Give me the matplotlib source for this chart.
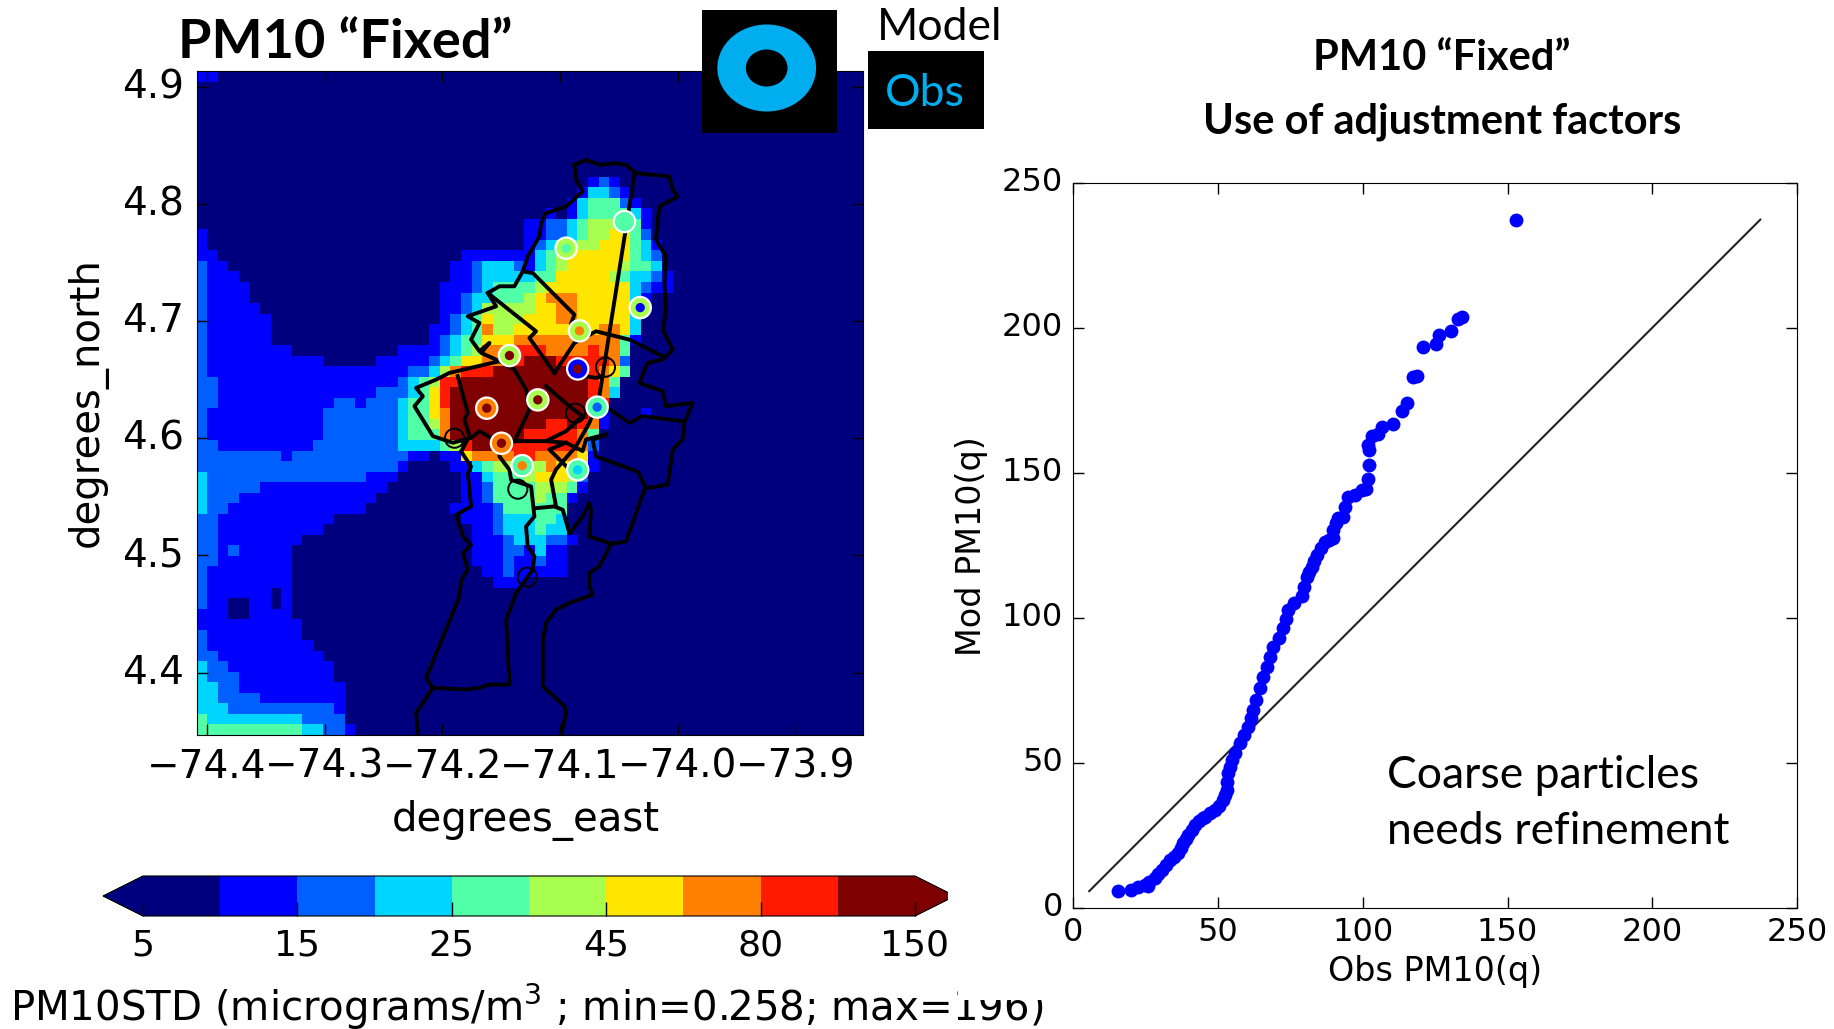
import matplotlib
matplotlib.use("Agg")
import matplotlib.pyplot as plt
import numpy as np
from matplotlib.cm import ScalarMappable
from matplotlib.colors import BoundaryNorm, ListedColormap
from matplotlib.patches import Ellipse, Rectangle
from matplotlib.transforms import ScaledTranslation

plt.rcParams["font.family"] = ["DejaVu Sans"]
plt.rcParams["mathtext.default"] = "regular"

W, H = 1834, 1029

# colour classes of the map
levels = [5, 10, 15, 20, 25, 35, 45, 60, 80, 100, 150]
level_ticks = [5, 15, 25, 45, 80, 150]
level_colors = ["#00007f", "#0000ff", "#0060ff", "#00d5ff", "#50ffa8",
                "#a8ff4e", "#ffe600", "#ff7f00", "#ff1a00", "#7f0000"]
level_values = [7, 12, 17, 22, 30, 40, 52, 70, 90, 125]

# map cells, top row first, as "first_column:class" runs
field_rows = [
    "0:1 2:0",
    "0:0", "0:0", "0:0", "0:0", "0:0", "0:0", "0:0", "0:0", "0:0",
    "0:0 37:1 38:2 39:1 40:0",
    "0:0 36:1 37:3 39:2 40:1 41:0",
    "0:0 35:1 36:3 37:4 40:2 41:1 42:0",
    "0:0 33:1 34:0 35:1 36:3 37:4 41:3 42:1 43:0",
    "0:0 31:1 33:2 35:3 36:4 37:5 40:4 42:1 43:0",
    "0:1 1:0 31:1 33:2 35:3 36:4 37:5 39:6 41:4 42:2 43:0",
    "0:1 1:0 31:1 32:2 33:3 34:4 36:5 38:6 41:4 42:3 43:1 44:0",
    "0:1 2:0 25:1 32:3 33:4 34:5 35:6 41:4 42:3 43:2 44:0",
    "0:2 1:1 3:0 24:1 26:2 27:3 30:2 31:1 32:3 33:4 34:5 35:6 40:5 41:4 43:3 44:0",
    "0:2 1:1 4:0 24:1 26:2 27:3 32:4 34:6 39:5 40:4 41:3 43:2 44:1 45:0",
    "0:2 1:1 5:0 23:1 26:2 27:3 28:4 32:5 33:6 41:3 42:2 43:1 45:0",
    "0:2 1:1 5:0 23:1 25:2 26:3 28:4 31:5 32:6 33:7 36:6 41:3 42:1 43:0",
    "0:2 1:1 6:0 23:1 25:2 26:3 27:5 32:6 34:7 36:6 41:3 42:1 43:0",
    "0:2 1:1 7:0 23:1 24:2 25:3 26:4 27:6 28:5 31:6 34:7 36:6 41:3 42:0",
    "0:2 1:1 7:0 22:1 24:2 25:3 26:4 27:7 28:5 30:6 38:7 40:6 41:3 42:0",
    "0:2 1:1 7:0 22:1 23:2 24:3 25:4 27:6 30:7 40:4 41:1 42:0",
    "0:2 1:1 9:0 19:1 23:2 24:3 25:4 26:5 27:7 30:8 33:7 37:8 38:7 40:4 41:0",
    "0:2 1:1 12:0 17:1 22:2 23:3 24:4 25:6 27:7 29:8 31:9 34:8 39:7 40:2 41:0",
    "0:2 1:1 20:2 22:3 23:5 24:7 25:8 28:9 37:8 38:7 39:6 40:4 41:0",
    "0:2 2:1 19:2 20:3 21:4 22:5 23:8 25:9 37:8 38:7 39:4 40:0",
    "0:2 2:1 17:2 20:3 21:4 22:6 23:8 24:9 37:8 38:7 39:3 40:0",
    "0:2 2:1 13:2 15:1 16:2 19:3 20:4 22:6 23:8 24:9 38:8 39:0",
    "0:2 1:1 12:2 19:3 20:4 22:6 23:7 24:9 37:8 38:1 39:0 42:1 43:0",
    "0:2 1:1 12:2 19:3 20:4 22:5 23:7 24:9 33:8 35:9 36:8 37:7 38:1 39:0",
    "0:2 1:1 12:2 19:3 20:4 23:7 24:9 31:8 36:7 37:4 38:0",
    "0:2 2:1 11:2 19:3 23:4 24:5 25:8 26:9 29:8 36:7 37:2 38:0",
    "0:2 8:1 9:2 20:1 22:0 23:1 25:6 26:7 30:8 32:7 36:6 37:1 38:0",
    "0:2 19:1 20:0 24:1 26:3 27:4 28:5 33:7 34:6 36:5 37:1 38:0",
    "0:3 1:2 16:1 19:0 25:1 27:3 28:4 31:5 32:6 35:5 36:2 37:0",
    "0:3 1:2 6:1 18:0 25:1 27:2 28:4 32:5 35:4 36:1 37:0",
    "0:3 1:2 4:1 17:0 25:1 27:2 28:4 32:5 33:4 35:1 36:0",
    "0:3 1:2 3:1 16:0 24:1 28:2 29:4 35:0",
    "0:2 2:1 13:0 25:1 28:2 29:3 32:4 34:3 35:0",
    "0:2 2:1 12:0 26:1 28:2 29:3 32:4 33:3 35:0",
    "0:2 2:1 10:0 26:1 29:2 30:3 33:2 35:1 36:0",
    "0:2 2:1 3:2 4:1 9:0 26:1 29:2 31:1 32:3 33:1 35:0",
    "0:2 2:1 9:0 26:1 29:2 30:1 32:2 33:1 35:0",
    "0:2 1:1 9:0 27:1 29:2 30:1 35:0",
    "0:2 1:1 9:0 28:1 31:0",
    "0:2 1:1 7:0 8:1 9:0",
    "0:2 1:1 3:0 5:1 7:0 8:1 9:0",
    "0:1 3:0 5:1 9:0",
    "0:1 10:0",
    "0:2 1:1 10:0",
    "0:2 1:1 11:0",
    "0:2 2:1 12:0",
    "0:3 1:2 3:1 13:0",
    "0:3 1:2 4:1 13:0",
    "0:3 2:2 4:1 14:0",
    "0:3 2:2 6:1 14:0",
    "0:3 3:2 13:1 14:0",
    "0:4 1:3 10:2 14:0",
    "0:4 10:3 12:2 14:1 15:0",
]

# stations: observed value is the ring, model value is the dot in the middle
station_lon = [-74.0453, -74.0948, -74.0319, -74.0835, -74.1430, -74.0850,
               -74.1189, -74.1623, -74.0685, -74.1498, -74.1322, -74.0850]
station_lat = [4.7848, 4.7621, 4.7114, 4.6916, 4.6705, 4.6591,
               4.6327, 4.6256, 4.6265, 4.5957, 4.5766, 4.5730]
station_obs = [30, 40, 40, 40, 40, 12, 40, 70, 30, 70, 30, 30]
station_mod = [30, 30, 12, 70, 125, 125, 125, 125, 17, 125, 70, 22]

# stations without data
empty_lon = [-74.0614, -74.0869, -74.1897, -74.1359, -74.1279]
empty_lat = [4.6606, 4.6213, 4.6000, 4.5565, 4.4814]

# boundary lines, lon/lat
boundaries = [
    [(-74.0878, 4.8332), (-74.0779, 4.8375), (-74.0666, 4.8332), (-74.0525, 4.8346),
     (-74.0440, 4.8332), (-74.0355, 4.8261), (-74.0072, 4.8233), (-74.0043, 4.8119),
     (-74.0001, 4.8062), (-74.0157, 4.7977), (-74.0185, 4.7693), (-74.0100, 4.7551),
     (-74.0114, 4.7324), (-74.0100, 4.7097), (-74.0128, 4.6926), (-74.0043, 4.6756),
     (-74.0128, 4.6671), (-74.0256, 4.6642), (-74.0326, 4.6472), (-74.0128, 4.6401),
     (-74.0100, 4.6273), (-73.9874, 4.6302), (-73.9944, 4.6131), (-73.9958, 4.5989),
     (-74.0043, 4.5904), (-74.0086, 4.5602), (-74.0270, 4.5574), (-74.0341, 4.5716),
     (-74.0694, 4.5844), (-74.0723, 4.5986), (-74.0610, 4.6028)],
    [(-74.0284, 4.5560), (-74.0440, 4.5119), (-74.0567, 4.5099), (-74.0751, 4.5162),
     (-74.0737, 4.5389), (-74.0751, 4.5446), (-74.0808, 4.5332), (-74.0921, 4.5190),
     (-74.0977, 4.5389), (-74.1048, 4.5418), (-74.1204, 4.5403)],
    [(-74.0567, 4.5099), (-74.0666, 4.4906), (-74.0751, 4.4850), (-74.0751, 4.4736),
     (-74.0723, 4.4665), (-74.0921, 4.4594), (-74.1034, 4.4537), (-74.1119, 4.4424),
     (-74.1147, 4.4282), (-74.1147, 4.3884), (-74.0963, 4.3714), (-74.0949, 4.3657),
     (-74.0991, 4.3472)],
    [(-74.1840, 4.5886), (-74.1756, 4.5758), (-74.1784, 4.5702), (-74.1756, 4.5418),
     (-74.1883, 4.5347), (-74.1826, 4.5162), (-74.1756, 4.5091), (-74.1826, 4.5020),
     (-74.1784, 4.4878), (-74.1840, 4.4793), (-74.1855, 4.4651), (-74.2138, 4.3955),
     (-74.2081, 4.3870), (-74.1798, 4.3856), (-74.1685, 4.3870), (-74.1600, 4.3898),
     (-74.1430, 4.3898), (-74.1458, 4.4452), (-74.1374, 4.4679), (-74.1232, 4.4878),
     (-74.1218, 4.4992), (-74.1275, 4.5077), (-74.1289, 4.5247), (-74.1218, 4.5332),
     (-74.1246, 4.5588), (-74.1416, 4.5645), (-74.1430, 4.5730), (-74.1515, 4.5844),
     (-74.1515, 4.5961)],
    [(-74.2081, 4.3870), (-74.2223, 4.3657), (-74.2208, 4.3472)],
    [(-74.0878, 4.8332), (-74.0864, 4.8204), (-74.0808, 4.8105), (-74.0949, 4.7977),
     (-74.1119, 4.7920), (-74.1161, 4.7835), (-74.1175, 4.7722), (-74.1275, 4.7551),
     (-74.1317, 4.7423), (-74.1232, 4.7409), (-74.0878, 4.7054), (-74.0905, 4.6980)],
    [(-74.1317, 4.7423), (-74.1388, 4.7296), (-74.1515, 4.7296), (-74.1614, 4.7239),
     (-74.1204, 4.6912), (-74.1260, 4.6855), (-74.1048, 4.6557)],
    [(-74.1614, 4.7239), (-74.1543, 4.7125), (-74.1784, 4.7040), (-74.1685, 4.6983),
     (-74.1756, 4.6841), (-74.1685, 4.6742), (-74.1600, 4.6813), (-74.1671, 4.6728),
     (-74.1515, 4.6657), (-74.1940, 4.6557), (-74.2053, 4.6500), (-74.2223, 4.6429),
     (-74.2166, 4.6358), (-74.2237, 4.6273), (-74.2081, 4.6018), (-74.1911, 4.5961),
     (-74.1756, 4.6003), (-74.1685, 4.6060), (-74.1515, 4.5961), (-74.1388, 4.5975)],
    [(-74.1515, 4.6657), (-74.1388, 4.6586), (-74.1289, 4.6415), (-74.1260, 4.6245),
     (-74.1388, 4.5975)],
    [(-74.1048, 4.6557), (-74.0878, 4.6813), (-74.0694, 4.6912), (-74.0411, 4.6841),
     (-74.0128, 4.6699)],
    [(-74.1119, 4.6444), (-74.0921, 4.6273), (-74.0808, 4.6188), (-74.0949, 4.6060),
     (-74.1119, 4.5975), (-74.1388, 4.5975)],
    [(-74.0369, 4.8247), (-74.0666, 4.6358), (-74.0751, 4.6131), (-74.0864, 4.5932),
     (-74.1034, 4.5734), (-74.1076, 4.5645), (-74.1034, 4.5418)],
    [(-74.1119, 4.5975), (-74.0949, 4.5961), (-74.0808, 4.5890), (-74.0779, 4.5989),
     (-74.0610, 4.6032)],
    [(-74.0949, 4.5961), (-74.1091, 4.5904), (-74.0949, 4.5762)],
    [(-74.1869, 4.6529), (-74.1784, 4.6216), (-74.1812, 4.6160), (-74.1770, 4.6018),
     (-74.1840, 4.5886)],
    [(-74.0595, 4.6259), (-74.0411, 4.6131), (-74.0298, 4.6188), (-73.9958, 4.6145)],
    [(-74.0793, 4.6529), (-74.0694, 4.6515), (-74.0638, 4.6529)],
]

# quantile-quantile points
obs_q = [15.5, 20.1, 22.6, 24.8, 26.1, 26.4, 28.4, 29.5, 30.7, 32.2, 33.6, 35.0,
         36.4, 37.2, 38.2, 39.0, 39.9, 41.0, 42.2, 43.5, 44.8, 45.6, 47.4, 49.1,
         50.6, 52.0, 52.6, 53.1, 53.3, 53.7, 54.2, 54.8, 56.0, 57.7, 59.0, 60.6,
         61.4, 62.3, 63.2, 64.6, 65.7, 66.9, 68.0, 69.2, 71.0, 72.7, 73.5, 74.4,
         76.5, 79.0, 79.8, 80.7, 81.5, 82.4, 83.3, 84.2, 85.5, 87.0, 88.5, 89.9,
         89.9, 91.0, 91.6, 93.4, 94.0, 95.1, 97.4, 99.7, 101.1, 101.8, 102.2, 102.2,
         102.0, 103.1, 105.4, 106.6, 110.6, 113.7, 115.2, 117.3, 118.7, 121.0, 125.2,
         126.3, 130.4, 133.0, 134.2, 152.8]
mod_q = [5.7, 6.1, 7.2, 7.9, 7.5, 9.0, 10.1, 11.5, 13.0, 14.8, 16.4, 17.5,
         18.7, 20.5, 22.2, 23.6, 25.0, 26.8, 28.5, 30.0, 31.0, 31.4, 32.5, 33.7,
         35.2, 37.0, 38.8, 40.6, 43.5, 46.3, 48.6, 50.9, 53.5, 56.7, 59.5, 62.4,
         65.3, 68.2, 71.5, 75.6, 79.5, 83.1, 86.5, 90.0, 93.0, 96.3, 99.5, 102.7,
         105.0, 107.3, 110.5, 114.0, 115.8, 117.5, 119.5, 121.5, 124.0, 126.1, 126.8, 127.3,
         130.2, 132.5, 134.2, 134.8, 138.2, 141.6, 142.2, 144.0, 144.2, 147.7, 152.5, 157.7,
         159.5, 162.6, 163.3, 165.6, 166.6, 171.3, 174.1, 182.8, 183.3, 193.4, 194.3,
         197.4, 198.9, 202.8, 203.7, 237.1]
line_start, line_end = 5.7, 237.2

map_xlim = (-74.4089, -73.8426)
map_ylim = (4.3468, 4.913)
map_xticks = [-74.4, -74.3, -74.2, -74.1, -74.0, -73.9]
map_yticks = [4.4, 4.5, 4.6, 4.7, 4.8, 4.9]
qq_ticks = [0, 50, 100, 150, 200, 250]


def px_axes(x0, y0, x1, y1, **kw):
    # axes box given in picture pixels, y from the top
    return fig.add_axes([x0 / W, 1 - y1 / H, (x1 - x0) / W, (y1 - y0) / H], **kw)


def lift_ylabels(a, px):
    # the y tick labels sit a little above their ticks in the reference
    shift = ScaledTranslation(0, px / 100, fig.dpi_scale_trans)
    for lab in a.get_yticklabels():
        lab.set_transform(lab.get_transform() + shift)


fig = plt.figure(figsize=(W / 100, H / 100), dpi=100)

cmap = ListedColormap(level_colors)
cmap.set_under(level_colors[0])
cmap.set_over(level_colors[-1])
norm = BoundaryNorm(levels, len(level_colors))

# ---- map ----
ax = px_axes(196.5, 71.3, 863, 735)
field = np.zeros((63, 63))
for r, row in enumerate(field_rows):
    for run in row.split():
        col, lev = run.split(":")
        field[r, int(col):] = level_values[int(lev)]
lon_edges = np.linspace(map_xlim[0], map_xlim[1], 64)
lat_edges = np.linspace(map_ylim[1], map_ylim[0], 64)
ax.pcolormesh(lon_edges, lat_edges, field, cmap=cmap, norm=norm, rasterized=True)
for line in boundaries:
    xs, ys = zip(*line)
    ax.plot(xs, ys, color="black", lw=2.8, solid_joinstyle="round", zorder=3)
ax.scatter(empty_lon, empty_lat, s=190, facecolors="none", edgecolors="black", linewidths=1.4, zorder=4)
ax.scatter(station_lon, station_lat, s=235, c=station_obs, cmap=cmap, norm=norm,
           edgecolors="white", linewidths=1.6, zorder=5)
ax.scatter(station_lon, station_lat, s=45, c=station_mod, cmap=cmap, norm=norm,
           linewidths=0, zorder=6)
ax.set_xlim(map_xlim)
ax.set_ylim(map_ylim)
ax.set_xticks(map_xticks)
ax.set_yticks(map_yticks)
ax.set_xticklabels(["\u2212%.1f" % abs(v) for v in map_xticks])
ax.tick_params(direction="in", top=True, right=True, length=8, width=1, labelsize=28, pad=9)
lift_ylabels(ax, 3.5)
ax.set_xlabel("degrees_east", fontsize=29, va="center")
ax.set_ylabel("degrees_north", fontsize=29, va="center")
ax.xaxis.set_label_coords((526 - 196.5) / 666.5, 1 - (820.5 - 71.3) / 663.7)
ax.yaxis.set_label_coords((87 - 196.5) / 666.5, 1 - (402.5 - 71.3) / 663.7)

# ---- colour bar ----
cax = px_axes(103, 876, 955, 916)
cb = fig.colorbar(ScalarMappable(norm=norm, cmap=cmap), cax=cax, orientation="horizontal",
                  extend="both", extendfrac=40 / 772, spacing="uniform", ticks=level_ticks)
cb.set_ticklabels([str(v) for v in level_ticks])
cax.tick_params(direction="in", length=10, width=1, labelsize=26, pad=9)
cax.minorticks_off()

# ---- quantile plot ----
qq = px_axes(1072.7, 182.5, 1797.4, 907.7)
qq.plot([line_start, line_end], [line_start, line_end], color="#222222", lw=1.5)
qq.scatter(obs_q, mod_q, s=100, color="#0000ff", linewidths=0, zorder=3)
qq.set_xlim(0, 250)
qq.set_ylim(0, 250)
qq.set_xticks(qq_ticks)
qq.set_yticks(qq_ticks)
qq.tick_params(direction="in", top=True, right=True, length=8, width=1, labelsize=23, pad=7)
lift_ylabels(qq, 3.5)
qq.set_xlabel("Obs PM10(q)", fontsize=24, va="center")
qq.set_ylabel("Mod PM10(q)", fontsize=24, va="center")
qq.xaxis.set_label_coords((1435 - 1072.7) / 724.7, 1 - (971 - 182.5) / 725.2)
qq.yaxis.set_label_coords((972 - 1072.7) / 724.7, 1 - (546 - 182.5) / 725.2)

# ---- overlay in picture pixels: pasted titles and legend ----
top = px_axes(0, 0, W, H, zorder=10)
top.set_xlim(0, W)
top.set_ylim(H, 0)
top.axis("off")
top.patch.set_alpha(0)
top.add_patch(Rectangle((948, 860), 20, 70, color="white", lw=0))
top.text(10, 1007, "PM10STD (micrograms/m$^3$ ; min=0.258; max=196)", fontsize=29, va="center", ha="left")
# top of the last digits is cut off in the reference
top.add_patch(Rectangle((958, 975), 90, 25, color="white", lw=0, zorder=5))
top.text(178, 42, "PM10 \u201cFixed\u201d", family="Lato", weight="bold", fontsize=39, va="center", ha="left")
top.add_patch(Rectangle((702, 9.5), 135, 123, color="black", lw=0))
top.add_patch(Ellipse((766.7, 68), 98.7, 87, color="#00aeef", lw=0))
top.add_patch(Ellipse((766.7, 68), 41.7, 37, color="black", lw=0))
top.add_patch(Rectangle((868, 51), 116, 78, color="black", lw=0))
top.text(940, 27, "Model", family="Lato", fontsize=32, va="center", ha="center")
top.text(925, 94, "Obs", family="Lato", color="#00aeef", fontsize=32, va="center", ha="center")
top.text(1442, 58, "PM10 \u201cFixed\u201d", family="Lato", weight="bold", fontsize=30, va="center", ha="center")
top.text(1442, 122, "Use of adjustment factors", family="Lato", weight="bold", fontsize=30, va="center", ha="center")
top.text(1387, 775, "Coarse particles", family="Lato", fontsize=32, va="center", ha="left")
top.text(1387, 832, "needs refinement", family="Lato", fontsize=32, va="center", ha="left")

fig.savefig("out.png", dpi=100)
